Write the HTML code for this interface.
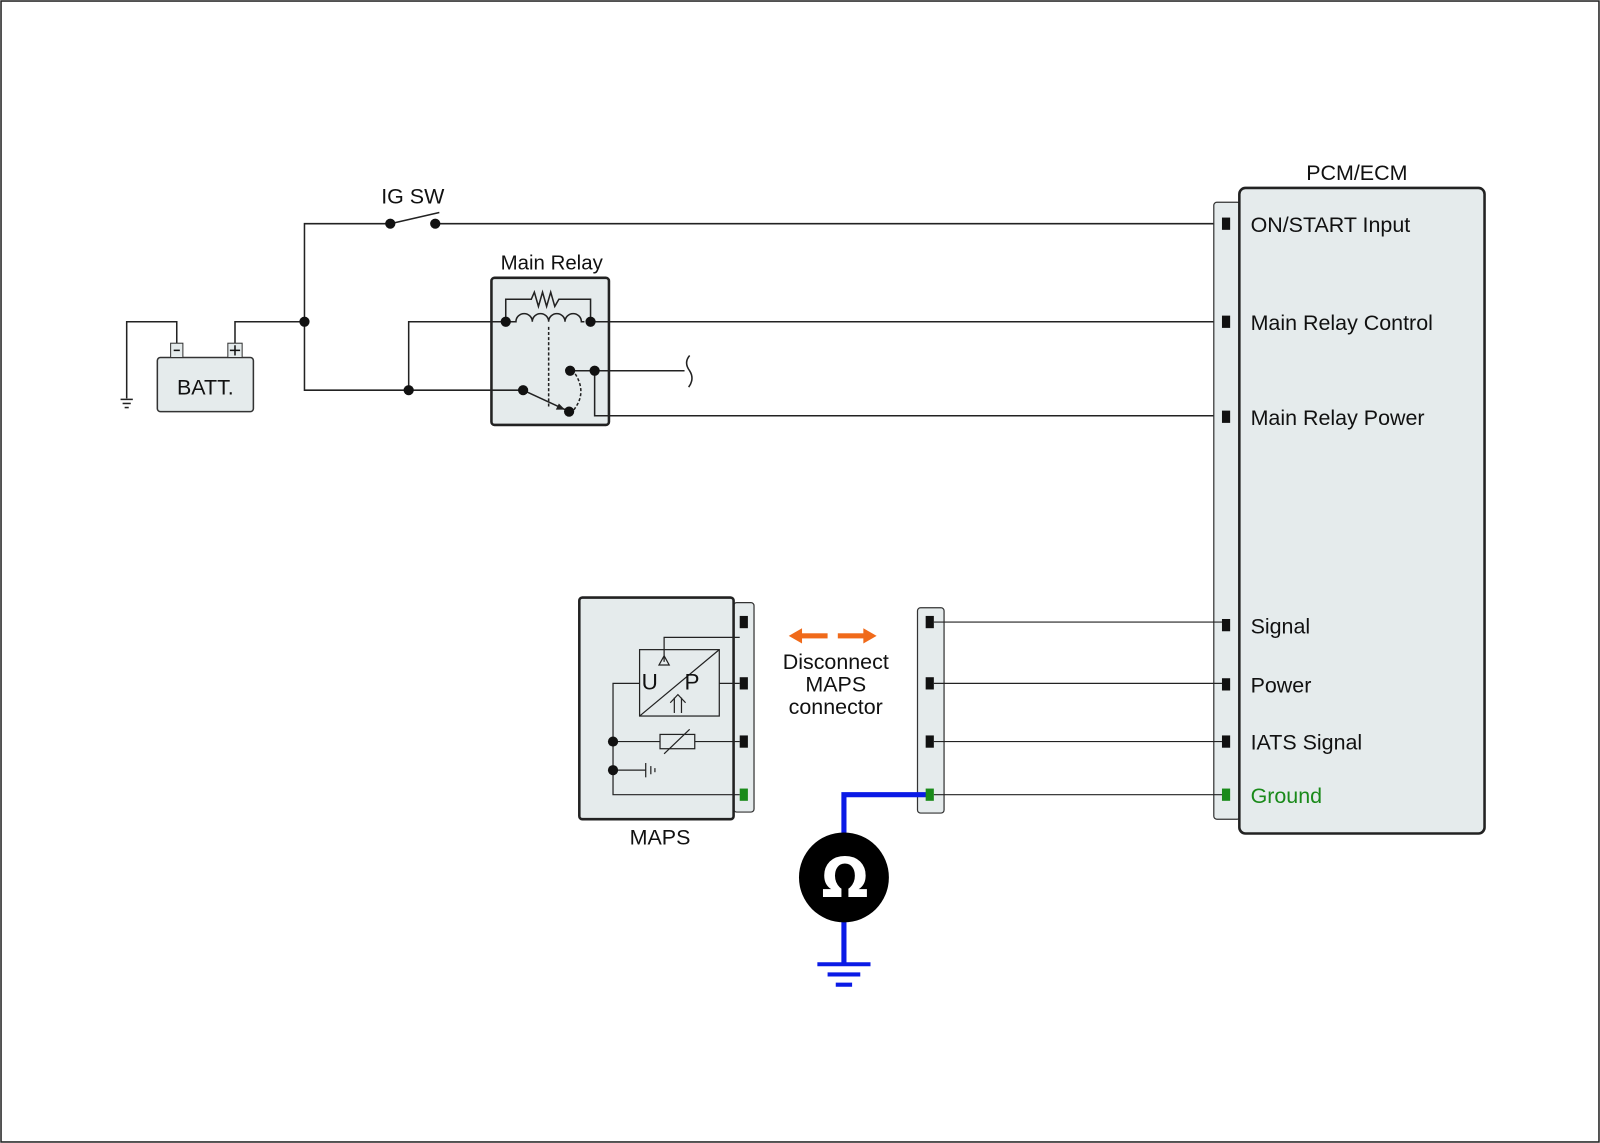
<!DOCTYPE html>
<html><head><meta charset="utf-8"><style>
html,body{margin:0;padding:0;background:#fff}
svg{display:block}
text{font-family:"Liberation Sans",sans-serif;fill:#111}
</style></head><body>
<svg width="1600" height="1143" viewBox="0 0 1566 1119" preserveAspectRatio="none" xmlns="http://www.w3.org/2000/svg" font-size="21">
<rect x="1" y="1" width="1564" height="1117" fill="#fff" stroke="#222" stroke-width="1.5"/>
<!-- relay box first -->
<rect x="481" y="272" width="115" height="144" rx="3" fill="#e5ebec" stroke="#222" stroke-width="2.5"/>
<text x="540" y="264" text-anchor="middle" style="font-size:20px">Main Relay</text>
<g fill="none" stroke="#222" stroke-width="1.5">
<polyline points="382,219 298,219 298,382 512,382"/>
<line x1="382" y1="219" x2="430" y2="208"/>
<line x1="426" y1="219" x2="1196" y2="219"/>
<polyline points="230,340 230,315 298,315"/>
<polyline points="173,340 173,315 124,315 124,390"/>
<line x1="118" y1="391" x2="130" y2="391"/><line x1="120" y1="395" x2="128" y2="395"/><line x1="122" y1="399" x2="126" y2="399"/>
<polyline points="400,382 400,315 495,315"/>
<polyline points="495,315 495,293 520,293 523,286 527,300 531,286 535,300 539,286 543,300 547,293 578,293 578,315"/>
<path d="M495,315 h10 a8,8 0 0 1 16,0 a8,8 0 0 1 16,0 a8,8 0 0 1 16,0 a8,8 0 0 1 16,0 h3"/>
<line x1="578" y1="315" x2="1196" y2="315"/>
<line x1="537" y1="320" x2="537" y2="398" stroke-dasharray="3,2"/>
<path d="M563,366 Q575,385 561,402" stroke-dasharray="3,2"/>
<line x1="512" y1="382" x2="553" y2="401"/>
<polyline points="558,363 670,363"/>
<path d="M675,348 q-6,7 0,15 q5,8 -1,16"/>
<polyline points="582,363 582,407 1196,407"/>
</g>
<rect x="154" y="350" width="94" height="53" rx="3" fill="#e5ebec" stroke="#333" stroke-width="1.5"/>
<rect x="167" y="336" width="12" height="14" fill="#e5ebec" stroke="#333"/>
<rect x="223" y="336" width="14" height="14" fill="#e5ebec" stroke="#333"/>
<line x1="170" y1="343" x2="176" y2="343" stroke="#111" stroke-width="1.5"/>
<line x1="225" y1="343" x2="235" y2="343" stroke="#111" stroke-width="1.5"/><line x1="230" y1="338" x2="230" y2="348" stroke="#111" stroke-width="1.5"/>
<text x="201" y="386" text-anchor="middle">BATT.</text>
<text x="404" y="199" text-anchor="middle">IG SW</text>
<polygon points="553,401 544,401 547,395" fill="#222"/>
<g fill="#111">
<circle cx="382" cy="219" r="5"/><circle cx="426" cy="219" r="5"/>
<circle cx="298" cy="315" r="5"/><circle cx="400" cy="382" r="5"/>
<circle cx="512" cy="382" r="5"/><circle cx="495" cy="315" r="5"/><circle cx="578" cy="315" r="5"/>
<circle cx="558" cy="363" r="5"/><circle cx="582" cy="363" r="5"/><circle cx="557" cy="403" r="5"/>
</g>
<!-- PCM -->
<rect x="1188" y="198" width="26" height="604" rx="3" fill="#e5ebec" stroke="#333" stroke-width="1.2"/>
<rect x="1213" y="184" width="240" height="632" rx="6" fill="#e5ebec" stroke="#222" stroke-width="2.5"/>
<text x="1328" y="176" text-anchor="middle">PCM/ECM</text>
<g fill="#111">
<rect x="1196" y="213" width="8" height="12"/><rect x="1196" y="309" width="8" height="12"/>
<rect x="1196" y="402" width="8" height="12"/><rect x="1196" y="606" width="8" height="12"/>
<rect x="1196" y="664" width="8" height="12"/><rect x="1196" y="720" width="8" height="12"/>
</g>
<rect x="1196" y="772" width="8" height="12" fill="#1a8a1a"/>
<text x="1224" y="227">ON/START Input</text>
<text x="1224" y="323">Main Relay Control</text>
<text x="1224" y="416">Main Relay Power</text>
<text x="1224" y="620">Signal</text>
<text x="1224" y="678">Power</text>
<text x="1224" y="734">IATS Signal</text>
<text x="1224" y="786" style="fill:#1a8a1a">Ground</text>
<!-- middle connector -->
<rect x="898" y="595" width="26" height="201" rx="3" fill="#e5ebec" stroke="#333" stroke-width="1.2"/>
<g stroke="#222" stroke-width="1.2">
<line x1="914" y1="609" x2="1196" y2="609"/><line x1="914" y1="669" x2="1196" y2="669"/>
<line x1="914" y1="726" x2="1196" y2="726"/><line x1="914" y1="778" x2="1196" y2="778"/>
</g>
<g fill="#111"><rect x="906" y="603" width="8" height="12"/><rect x="906" y="663" width="8" height="12"/><rect x="906" y="720" width="8" height="12"/></g>
<polyline points="908,778 826,778 826,830" fill="none" stroke="#0a1ae6" stroke-width="5"/>
<line x1="826" y1="890" x2="826" y2="944" stroke="#0a1ae6" stroke-width="5"/>
<g stroke="#0a1ae6" stroke-width="4"><line x1="800" y1="944" x2="852" y2="944"/><line x1="810" y1="954" x2="842" y2="954"/><line x1="818" y1="964" x2="834" y2="964"/></g>
<rect x="906" y="772" width="8" height="12" fill="#1a8a1a"/>
<circle cx="826" cy="859" r="44" fill="#000"/>
<text x="827" y="878" text-anchor="middle" font-weight="bold" style="fill:#fff;font-size:54px;font-family:'DejaVu Sans','Liberation Sans',sans-serif">Ω</text>
<!-- MAPS -->
<rect x="718" y="590" width="20" height="205" rx="3" fill="#e5ebec" stroke="#333" stroke-width="1.2"/>
<rect x="567" y="585" width="151" height="217" rx="3" fill="#e5ebec" stroke="#222" stroke-width="2.5"/>
<text x="646" y="827" text-anchor="middle">MAPS</text>
<g fill="none" stroke="#222" stroke-width="1.2">
<rect x="626" y="636" width="78" height="65"/>
<line x1="626" y1="701" x2="704" y2="636"/>
<polyline points="650,648 650,624 724,624"/>
<polygon points="650,642 645,651 655,651"/>
<line x1="704" y1="669" x2="724" y2="669"/>
<polyline points="626,669 600,669 600,778 724,778"/>
<line x1="600" y1="726" x2="646" y2="726"/><rect x="646" y="719" width="34" height="14"/><line x1="680" y1="726" x2="724" y2="726"/>
<line x1="650" y1="738" x2="675" y2="714"/>
<line x1="600" y1="754" x2="632" y2="754"/><line x1="632" y1="747" x2="632" y2="761"/><line x1="637" y1="750" x2="637" y2="758"/><line x1="641" y1="752" x2="641" y2="756"/>
<polyline points="660,698 660,683"/><polyline points="667,698 667,683"/><polyline points="656,688 663.5,680 671,688"/>
</g>
<text x="628" y="675" style="font-size:22px">U</text><text x="670" y="675" style="font-size:22px">P</text>
<g fill="#111"><circle cx="600" cy="726" r="5"/><circle cx="600" cy="754" r="5"/>
<rect x="724" y="603" width="8" height="12"/><rect x="724" y="663" width="8" height="12"/><rect x="724" y="720" width="8" height="12"/></g>
<rect x="724" y="772" width="8" height="12" fill="#1a8a1a"/>
<g fill="#f06a1a"><rect x="782" y="620" width="28" height="5"/><polygon points="772,622.5 785,615 785,630"/>
<rect x="820" y="620" width="28" height="5"/><polygon points="858,622.5 845,615 845,630"/></g>
<text x="818" y="655" text-anchor="middle">Disconnect</text>
<text x="818" y="677" text-anchor="middle">MAPS</text>
<text x="818" y="699" text-anchor="middle">connector</text>
</svg>
</body></html>
